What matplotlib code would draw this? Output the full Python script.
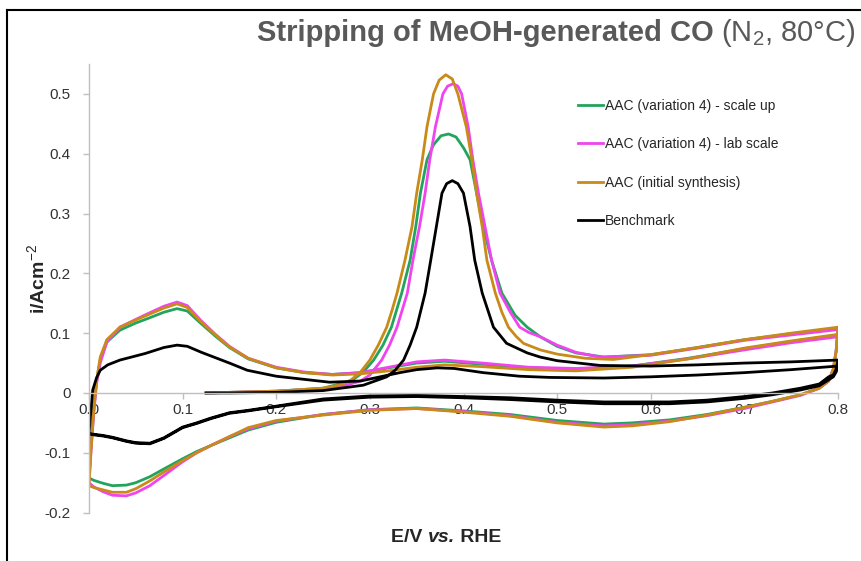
import matplotlib
matplotlib.use("Agg")
import numpy as np
import matplotlib.pyplot as plt
from matplotlib.lines import Line2D
from matplotlib.offsetbox import TextArea, HPacker, AnchoredOffsetbox
from matplotlib.ticker import FuncFormatter

plt.rcParams['font.family'] = ['Liberation Sans', 'DejaVu Sans']
plt.rcParams['mathtext.fontset'] = 'custom'
plt.rcParams['mathtext.rm'] = 'Liberation Sans'
plt.rcParams['mathtext.bf'] = 'Liberation Sans:bold'
plt.rcParams['mathtext.it'] = 'Liberation Sans:italic'

# ---- data, E in V vs RHE, i in A cm^-2 ----
# first anodic scan (CO stripping)
green_e1 = [0.125, 0.15, 0.2, 0.25, 0.28, 0.293, 0.304, 0.314, 0.323, 0.334, 0.343, 0.349, 0.354, 0.361, 0.368,
            0.376, 0.384, 0.392, 0.40, 0.407, 0.414, 0.421, 0.43, 0.441, 0.455, 0.468, 0.482, 0.50, 0.52, 0.55,
            0.60, 0.65, 0.70, 0.75, 0.80]
green_i1 = [0.0, 0.001, 0.003, 0.008, 0.02, 0.035, 0.055, 0.08, 0.11, 0.167, 0.222, 0.278, 0.334, 0.39, 0.415,
            0.43, 0.433, 0.428, 0.41, 0.39, 0.334, 0.278, 0.222, 0.167, 0.13, 0.11, 0.094, 0.078, 0.067, 0.06,
            0.064, 0.076, 0.089, 0.099, 0.107]
magenta_e1 = [0.125, 0.15, 0.2, 0.25, 0.27, 0.29, 0.30, 0.3126, 0.321, 0.329, 0.340, 0.346, 0.353, 0.359, 0.364,
              0.370, 0.378, 0.383, 0.389, 0.394, 0.398, 0.405, 0.41, 0.416, 0.423, 0.430, 0.439, 0.45, 0.46, 0.47,
              0.482, 0.50, 0.52, 0.546, 0.60, 0.65, 0.70, 0.75, 0.80]
magenta_i1 = [0.0, 0.001, 0.003, 0.007, 0.011, 0.02, 0.03, 0.055, 0.08, 0.11, 0.167, 0.222, 0.278, 0.334, 0.39,
              0.445, 0.50, 0.513, 0.517, 0.513, 0.50, 0.445, 0.39, 0.334, 0.278, 0.222, 0.167, 0.135, 0.11, 0.101,
              0.094, 0.08, 0.068, 0.06, 0.063, 0.075, 0.088, 0.097, 0.106]
orange_e1 = [0.125, 0.15, 0.2, 0.25, 0.27, 0.28, 0.29, 0.30, 0.309, 0.318, 0.324, 0.329, 0.3375, 0.345, 0.350,
             0.356, 0.361, 0.368, 0.374, 0.381, 0.388, 0.394, 0.403, 0.409, 0.414, 0.42, 0.425, 0.434, 0.441,
             0.448, 0.456, 0.464, 0.482, 0.50, 0.53, 0.56, 0.60, 0.65, 0.70, 0.75, 0.80]
orange_i1 = [0.0, 0.001, 0.003, 0.008, 0.014, 0.022, 0.035, 0.055, 0.08, 0.11, 0.14, 0.167, 0.222, 0.278, 0.334,
             0.39, 0.445, 0.50, 0.523, 0.532, 0.525, 0.50, 0.445, 0.39, 0.334, 0.278, 0.222, 0.167, 0.135,
             0.11, 0.095, 0.083, 0.072, 0.065, 0.058, 0.056, 0.064, 0.076, 0.089, 0.1, 0.11]
black_e1 = [0.125, 0.15, 0.2, 0.25, 0.293, 0.318, 0.327, 0.336, 0.343, 0.350, 0.359, 0.365, 0.371, 0.377, 0.382,
            0.388, 0.394, 0.40, 0.407, 0.412, 0.42, 0.432, 0.446, 0.468, 0.482, 0.5, 0.546, 0.6, 0.65, 0.7,
            0.75, 0.8]
black_i1 = [0.0, 0.0, 0.001, 0.004, 0.013, 0.027, 0.038, 0.055, 0.08, 0.11, 0.167, 0.222, 0.278, 0.334, 0.35,
            0.355, 0.35, 0.334, 0.278, 0.222, 0.167, 0.11, 0.083, 0.067, 0.06, 0.054, 0.046, 0.045, 0.047, 0.05,
            0.052, 0.055]

# cathodic scan (0.8 -> 0.0)
cath_e = [0.80, 0.798, 0.795, 0.79, 0.78, 0.76, 0.73, 0.70, 0.66, 0.62, 0.58, 0.55, 0.50, 0.45, 0.40, 0.35,
          0.30, 0.25, 0.20, 0.17, 0.15, 0.13, 0.115, 0.10, 0.08, 0.065, 0.05, 0.04, 0.025, 0.015, 0.005, 0.0]
green_i2 = [0.107, 0.07, 0.04, 0.02, 0.008, -0.003, -0.014, -0.024, -0.036, -0.045, -0.05, -0.052, -0.046, -0.036,
            -0.03, -0.025, -0.028, -0.036, -0.049, -0.062, -0.075, -0.088, -0.098, -0.11, -0.127, -0.14, -0.15,
            -0.154, -0.155, -0.151, -0.146, -0.142]
magenta_i2 = [0.106, 0.07, 0.04, 0.02, 0.008, -0.004, -0.015, -0.026, -0.038, -0.047, -0.053, -0.055, -0.049,
              -0.038, -0.031, -0.026, -0.028, -0.036, -0.047, -0.06, -0.073, -0.088, -0.1, -0.115, -0.138, -0.155,
              -0.167, -0.172, -0.171, -0.165, -0.157, -0.15]
orange_i2 = [0.11, 0.07, 0.04, 0.02, 0.008, -0.003, -0.014, -0.024, -0.037, -0.048, -0.055, -0.057, -0.05, -0.039,
             -0.032, -0.026, -0.029, -0.037, -0.046, -0.058, -0.073, -0.088, -0.1, -0.113, -0.132, -0.147, -0.16,
             -0.166, -0.166, -0.162, -0.158, -0.155]
black_i2 = [0.055, 0.04, 0.03, 0.027, 0.015, 0.008, 0.0, -0.006, -0.012, -0.015, -0.015, -0.015, -0.012, -0.008,
            -0.006, -0.004, -0.005, -0.01, -0.022, -0.029, -0.033, -0.042, -0.05, -0.057, -0.075, -0.084, -0.083,
            -0.08, -0.074, -0.071, -0.069, -0.068]

# second anodic scan (0.0 -> 0.8)
an_e = [0.0, 0.002, 0.005, 0.008, 0.012, 0.019, 0.033, 0.05, 0.062, 0.08, 0.094, 0.105, 0.119, 0.135, 0.15, 0.17,
        0.2, 0.23, 0.26, 0.29, 0.32, 0.35, 0.38, 0.42, 0.47, 0.52, 0.58, 0.64, 0.70, 0.75, 0.80]
green_i3 = [-0.142, -0.09, -0.03, 0.02, 0.055, 0.085, 0.105, 0.117, 0.124, 0.135, 0.141, 0.137, 0.117, 0.095,
            0.076, 0.057, 0.042, 0.034, 0.031, 0.034, 0.042, 0.05, 0.053, 0.048, 0.042, 0.04, 0.045, 0.058, 0.074,
            0.086, 0.097]
magenta_i3 = [-0.15, -0.1, -0.035, 0.015, 0.05, 0.085, 0.11, 0.123, 0.132, 0.145, 0.152, 0.146, 0.122, 0.098,
              0.078, 0.058, 0.043, 0.035, 0.031, 0.034, 0.043, 0.052, 0.055, 0.05, 0.043, 0.041, 0.045, 0.057, 0.072,
              0.084, 0.094]
orange_i3 = [-0.155, -0.1, -0.03, 0.02, 0.06, 0.089, 0.11, 0.122, 0.13, 0.142, 0.149, 0.143, 0.12, 0.097, 0.077,
             0.058, 0.042, 0.034, 0.03, 0.032, 0.037, 0.043, 0.047, 0.044, 0.039, 0.037, 0.043, 0.057, 0.075,
             0.087, 0.098]
black_e3 = [0.0, 0.002, 0.004, 0.008, 0.012, 0.02, 0.033, 0.06, 0.08, 0.094, 0.105, 0.12, 0.15, 0.169, 0.2, 0.257,
            0.29, 0.311, 0.332, 0.350, 0.372, 0.39, 0.421, 0.46, 0.492, 0.55, 0.6, 0.65, 0.7, 0.75, 0.8]
black_i3 = [-0.068, -0.03, 0.005, 0.025, 0.038, 0.047, 0.055, 0.066, 0.076, 0.08, 0.078, 0.068, 0.05, 0.038, 0.028,
            0.018, 0.02, 0.027, 0.034, 0.039, 0.042, 0.041, 0.034, 0.028, 0.026, 0.025, 0.027, 0.03, 0.034, 0.039,
            0.045]
# benchmark second cathodic sweep (runs just under the first one)
black_i4 = [0.045, 0.035, 0.027, 0.022, 0.012, 0.005, -0.003, -0.009, -0.015, -0.018, -0.018, -0.018, -0.015,
            -0.011, -0.008, -0.006, -0.007, -0.012, -0.023, -0.03, -0.034, -0.043, -0.051, -0.058, -0.076, -0.085,
            -0.084, -0.081, -0.075, -0.072, -0.07, -0.068]

labels = ['AAC (variation 4) - scale up', 'AAC (variation 4) - lab scale',
          'AAC (initial synthesis)', 'Benchmark']
colors = ['#22A45D', '#F044F0', '#C98A18', '#000000']

fig = plt.figure(figsize=(8.61, 5.61), dpi=100)
ax = fig.add_axes([89 / 861, 1 - 512.6 / 561, 749 / 861, 448.6 / 561])

series = [
    (green_e1 + cath_e + an_e, green_i1 + green_i2 + green_i3),
    (magenta_e1 + cath_e + an_e, magenta_i1 + magenta_i2 + magenta_i3),
    (orange_e1 + cath_e + an_e, orange_i1 + orange_i2 + orange_i3),
    (black_e1 + cath_e + black_e3 + cath_e, black_i1 + black_i2 + black_i3 + black_i4),
]
for (e, i), lab, c in zip(series, labels, colors):
    ax.plot(e, i, color=c, lw=2.0, label=lab, solid_joinstyle='round')

ax.set_xlim(0, 0.8)
ax.set_ylim(-0.2, 0.55)
ax.set_xticks(np.arange(0, 0.81, 0.1))
ax.set_yticks(np.arange(-0.2, 0.51, 0.1))
ax.xaxis.set_major_formatter(FuncFormatter(lambda v, p: f'{v:.1f}'))
ax.yaxis.set_major_formatter(FuncFormatter(lambda v, p: '0' if abs(v) < 1e-9 else f'{v:.1f}'))

for s in ['top', 'right']:
    ax.spines[s].set_visible(False)
ax.spines['bottom'].set_position(('data', 0))
for s in ['left', 'bottom']:
    ax.spines[s].set_color('#BFBFBF')
    ax.spines[s].set_linewidth(1)
ax.tick_params(axis='both', colors='#BFBFBF', labelcolor='#333333', labelsize=11, length=4, width=1)
ax.tick_params(axis='y', pad=9)
ax.tick_params(axis='x', pad=3)

ax.set_ylabel('i/Acm$^{-2}$', fontsize=14, fontweight='bold', color='#262626')
ax.yaxis.set_label_coords(-0.054, (0.19 + 0.2) / 0.75)

# x label with italic "vs."
xl = HPacker(children=[
    TextArea('E/V ', textprops=dict(fontsize=14, fontweight='bold', color='#262626')),
    TextArea('vs.', textprops=dict(fontsize=14, fontweight='bold', style='italic', color='#262626')),
    TextArea(' RHE', textprops=dict(fontsize=14, fontweight='bold', color='#262626')),
], pad=0, sep=0, align='baseline')
fig.add_artist(AnchoredOffsetbox(loc='center', child=xl, pad=0, borderpad=0, frameon=False,
                                 bbox_to_anchor=(446 / 861, 1 - 538 / 561), bbox_transform=fig.transFigure))

# title
tt = HPacker(children=[
    TextArea('Stripping of MeOH-generated CO', textprops=dict(fontsize=21, fontweight='bold', color='#595959')),
    TextArea(' (N$_2$, 80°C)', textprops=dict(fontsize=21, color='#595959')),
], pad=0, sep=0, align='baseline')
fig.add_artist(AnchoredOffsetbox(loc='center right', child=tt, pad=0, borderpad=0, frameon=False,
                                 bbox_to_anchor=(856 / 861, 1 - 33 / 561), bbox_transform=fig.transFigure))

ax.legend(loc='upper left', bbox_to_anchor=(578 / 861, 1 - 99 / 561), bbox_transform=fig.transFigure,
          frameon=False, fontsize=10, handlelength=1.8, handletextpad=0.15, labelspacing=1.75,
          borderpad=0, borderaxespad=0, labelcolor='#262626')

# black frame on the left and top of the picture
fig.add_artist(Line2D([7 / 861, 7 / 861], [0, 1 - 10 / 561], color='black', lw=1.5, transform=fig.transFigure))
fig.add_artist(Line2D([7 / 861, 1], [1 - 10 / 561, 1 - 10 / 561], color='black', lw=1.5, transform=fig.transFigure))

fig.savefig('out.png', dpi=100)
